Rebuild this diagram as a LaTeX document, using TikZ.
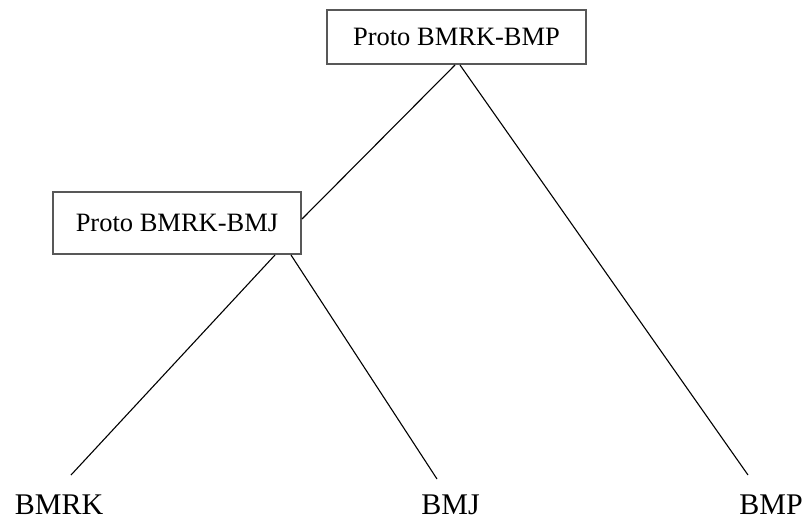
\documentclass[tikz,border=0pt]{standalone}
\usepackage{fontspec}
\setmainfont{Liberation Serif}
\definecolor{boxgray}{HTML}{585858}
\begin{document}
\begin{tikzpicture}[x=1pt,y=-1pt,
  protobox/.style={draw=boxgray, line width=2pt, fill=white, inner sep=0pt,
    font=\fontsize{26.5}{30}\selectfont},
  leaf/.style={anchor=base, inner sep=0pt, font=\fontsize{30}{34}\selectfont},
  branch/.style={line width=1.1pt, black}]
\useasboundingbox (0,0) rectangle (805,519);
\node[protobox, minimum width=259pt, minimum height=54pt] (top) at (456.5,37) {Proto BMRK-BMP};
\node[protobox, minimum width=248pt, minimum height=62pt] (mid) at (177,223) {Proto BMRK-BMJ};
\node[leaf] (bmrk) at (59,514) {BMRK};
\node[leaf] (bmj) at (450.5,514) {BMJ};
\node[leaf] (bmp) at (771,514) {BMP};
\coordinate (e1) at (71,475);
\coordinate (e2) at (437,479);
\coordinate (e3) at (748,475);
\draw[branch] ([xshift=-1.5pt]top.south) -- ([yshift=4pt]mid.east);
\draw[branch] ([xshift=3.5pt]top.south) -- (e3);
\draw[branch] ([xshift=98pt]mid.south) -- (e1);
\draw[branch] ([xshift=114pt]mid.south) -- (e2);
\end{tikzpicture}
\end{document}
